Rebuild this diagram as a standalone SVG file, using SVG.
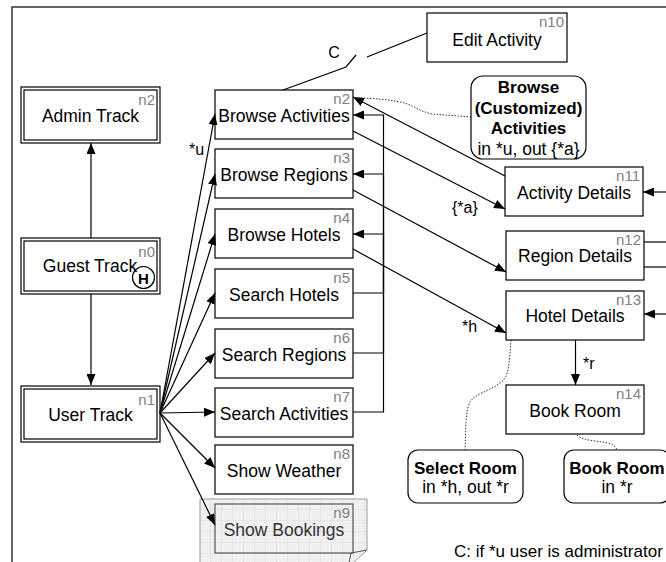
<svg xmlns="http://www.w3.org/2000/svg" width="666" height="562" viewBox="0 0 666 562">
<style>
text{font-family:"Liberation Sans",Arial,sans-serif;}
.box{fill:#fff;stroke:#000;stroke-width:1.2;}
.t{font-size:17.5px;fill:#000;text-anchor:middle;}
.b{font-size:17px;font-weight:bold;fill:#000;text-anchor:middle;}
.id{font-size:15px;fill:#808080;text-anchor:end;}
.lbl{font-size:16px;fill:#000;}
.e{fill:none;stroke:#000;stroke-width:1.2;}
.ea{fill:none;stroke:#000;stroke-width:1.2;marker-end:url(#ah);}
.dot{fill:none;stroke:#333;stroke-width:1;stroke-dasharray:1.5 1.5;}
.note{fill:#fff;stroke:#000;stroke-width:1.2;}
</style>
<defs>
<marker id="ah" markerUnits="userSpaceOnUse" markerWidth="11" markerHeight="9" refX="11" refY="4.5" orient="auto">
<path d="M0,0 L11,4.5 L0,9 z" fill="#000"/>
</marker>
<pattern id="grid" width="11" height="11" patternUnits="userSpaceOnUse" x="200" y="499">
<rect width="11" height="11" fill="#f0f0f0"/>
<path d="M11,0 V11 M0,11 H11" stroke="#d5d5d5" stroke-width="0.8" fill="none"/>
</pattern>
</defs>

<path d="M12,562 V7 H666" fill="none" stroke="#333" stroke-width="1.5"/>

<g id="n2-admin">
<rect x="21" y="87" width="139" height="56" class="box"/>
<rect x="24" y="90" width="133" height="50" class="box"/>
<text x="90.5" y="122" class="t">Admin Track</text>
<text x="155" y="105" class="id">n2</text>
</g>
<g id="n0-guest">
<rect x="21" y="238" width="139" height="56" class="box"/>
<rect x="24" y="241" width="133" height="50" class="box"/>
<text x="90" y="272" class="t">Guest Track</text>
<text x="155" y="257" class="id">n0</text>
<circle cx="143.5" cy="277.5" r="11" fill="none" stroke="#000" stroke-width="1.2"/>
<text x="143.5" y="283.5" class="b" style="font-size:15px">H</text>
</g>
<g id="n1-user">
<rect x="21" y="386" width="139" height="56" class="box"/>
<rect x="24" y="389" width="133" height="50" class="box"/>
<text x="90.5" y="421" class="t">User Track</text>
<text x="155" y="405" class="id">n1</text>
</g>

<g id="n2">
<rect x="215" y="90" width="138" height="49" class="box"/>
<text x="284" y="122" class="t">Browse Activities</text>
<text x="350" y="104" class="id">n2</text>
</g>
<g id="n3">
<rect x="215" y="149" width="138" height="49" class="box"/>
<text x="284" y="181" class="t">Browse Regions</text>
<text x="350" y="163" class="id">n3</text>
</g>
<g id="n4">
<rect x="215" y="209" width="138" height="49" class="box"/>
<text x="284" y="241" class="t">Browse Hotels</text>
<text x="350" y="223" class="id">n4</text>
</g>
<g id="n5">
<rect x="215" y="269" width="138" height="49" class="box"/>
<text x="284" y="301" class="t">Search Hotels</text>
<text x="350" y="283" class="id">n5</text>
</g>
<g id="n6">
<rect x="215" y="329" width="138" height="49" class="box"/>
<text x="284" y="361" class="t">Search Regions</text>
<text x="350" y="343" class="id">n6</text>
</g>
<g id="n7">
<rect x="215" y="388" width="138" height="49" class="box"/>
<text x="284" y="420" class="t">Search Activities</text>
<text x="350" y="402" class="id">n7</text>
</g>
<g id="n8">
<rect x="215" y="445" width="138" height="49" class="box"/>
<text x="284" y="477" class="t">Show Weather</text>
<text x="350" y="459" class="id">n8</text>
</g>
<g id="n9">
<path d="M200,499 H367 V550 L348,568 H200 Z" fill="url(#grid)" stroke="#999" stroke-width="1"/>
<path d="M348,568 L351,553 L367,550" fill="none" stroke="#555" stroke-width="1"/>
<rect x="215" y="504" width="138" height="49" fill="none" stroke="#555" stroke-width="1.2"/>
<text x="284" y="536" class="t" style="fill:#333">Show Bookings</text>
<text x="350" y="518" class="id">n9</text>
</g>

<g id="n10">
<rect x="427" y="13" width="140" height="49" class="box"/>
<text x="497" y="46" class="t">Edit Activity</text>
<text x="564" y="27" class="id">n10</text>
</g>
<g id="n11">
<rect x="505" y="167" width="138" height="49" class="box"/>
<text x="574" y="199" class="t">Activity Details</text>
<text x="640" y="181" class="id">n11</text>
</g>
<g id="n12">
<rect x="506" y="231" width="138" height="49" class="box"/>
<text x="575" y="262" class="t">Region Details</text>
<text x="641" y="245" class="id">n12</text>
</g>
<g id="n13">
<rect x="506" y="291" width="138" height="49" class="box"/>
<text x="575" y="322" class="t">Hotel Details</text>
<text x="641" y="305" class="id">n13</text>
</g>
<g id="n14">
<rect x="506" y="385" width="138" height="49" class="box"/>
<text x="575" y="417" class="t">Book Room</text>
<text x="641" y="399" class="id">n14</text>
</g>

<g id="note-browse">
<rect x="471" y="76" width="115" height="83" rx="12" class="note"/>
<text x="528.5" y="92.5" class="b">Browse</text>
<text x="528.5" y="113.5" class="b">(Customized)</text>
<text x="528.5" y="134" class="b">Activities</text>
<text x="528.5" y="155" class="t">in *u, out {*a}</text>
</g>
<g id="note-select">
<rect x="408" y="450" width="115" height="53" rx="10" class="note"/>
<text x="465.5" y="474" class="b">Select Room</text>
<text x="465.5" y="493" class="t">in *h, out *r</text>
</g>
<g id="note-book">
<rect x="564" y="450" width="106" height="53" rx="10" class="note"/>
<text x="617" y="474" class="b">Book Room</text>
<text x="617" y="493" class="t">in *r</text>
</g>

<text x="454" y="557" style="font-size:17px;fill:#000">C: if *u user is administrator</text>

<g id="connectors">
<path d="M91,238 V143" class="ea"/>
<path d="M91,294 V385" class="ea"/>
<path d="M160,413 L215,114" class="ea"/>
<path d="M160,413 L215,174" class="ea"/>
<path d="M160,413 L215,234" class="ea"/>
<path d="M160,413 L215,293" class="ea"/>
<path d="M160,413 L215,353" class="ea"/>
<path d="M160,413 L215,412" class="ea"/>
<path d="M160,413 L215,468" class="ea"/>
<path d="M160,413 L215,525" class="ea"/>
<text x="189" y="155" class="lbl">*u</text>

<path d="M353,412 H383.5 V115 H353" class="ea"/>
<path d="M353,353 H383.5 V174 H353" class="ea"/>
<path d="M353,293 H383.5 V234 H353" class="ea"/>

<path d="M353,131 L505,209" class="ea"/>
<text x="452" y="213" class="lbl">{*a}</text>
<path d="M505,176 L353,97" class="ea"/>
<path d="M353,190 L506,272" class="ea"/>
<path d="M353,249 L506,333" class="ea"/>
<text x="462" y="332" class="lbl">*h</text>
<path d="M575.5,340 V385" class="ea"/>
<text x="583" y="369" class="lbl">*r</text>

<path d="M666,192 H643" class="ea"/>
<path d="M644,242 H666" class="e"/>
<path d="M644,267 H666" class="e"/>
<path d="M666,314 H644" class="ea"/>

<path d="M283,90 L346,67 L356,55" class="e"/>
<path d="M367,57 L427,33" class="e"/>
<text x="334" y="57.5" class="lbl" style="text-anchor:middle">C</text>

<path d="M471,117 L432,114 C418,111 412,104 400,102 C385,99 370,98 356,98" class="dot"/>
<path d="M511,340 C509,365 509,378 500,383 C488,392 476,393 470,402 C465,412 466,430 465,450" class="dot"/>
<path d="M577,435 C582,441 600,441 608,443 C613,444 616,447 617,450" class="dot"/>
</g>
</svg>
